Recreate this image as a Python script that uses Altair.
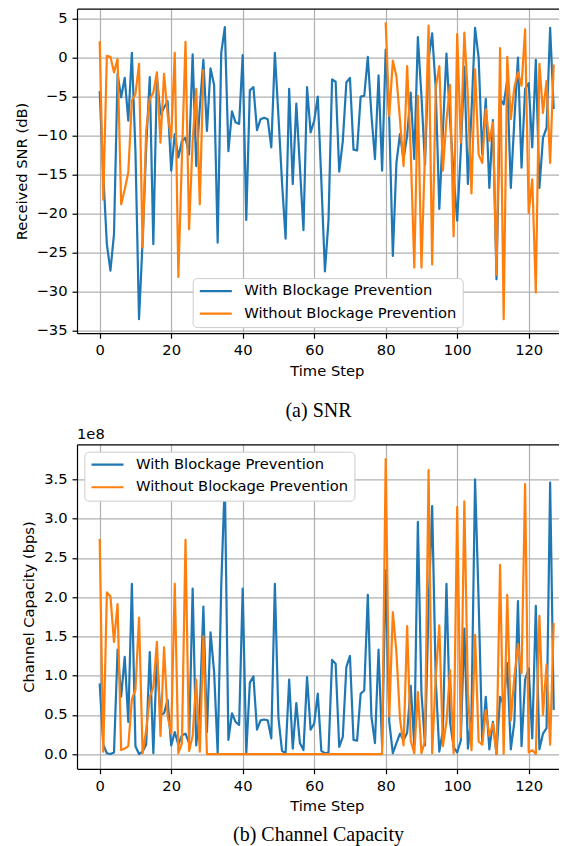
import altair as alt
import pandas as pd

# ---------------- data ----------------
steps = list(range(128))
WITH = "With Blockage Prevention"
WITHOUT = "Without Blockage Prevention"

# Received SNR (dB), with blockage prevention
snr_with = [
    -4.3, -15.0, -23.9, -27.3, -22.6, -2.1, -5.1, -2.6, -8.1, 0.6,
    -12.0, -33.5, -23.5, -11.5, -2.5, -23.9, -2.5, -7.3, -6.4, -5.6,
    -14.5, -9.8, -12.8, -10.7, -10.3, -12.4, 0.4, -13.9, -6.4, -0.3,
    -9.4, -1.4, -3.5, -23.7, 0.6, 3.9, -12.0, -6.9, -8.3, -8.5,
    0.3, -20.8, -4.2, -3.8, -9.3, -7.9, -7.7, -7.9, -11.5, 0.6,
    -7.5, -16.0, -23.2, -4.0, -16.2, -5.9, -14.0, -22.1, -3.8, -9.6,
    -8.1, -5.0, -15.8, -27.4, -20.9, -2.8, -3.1, -14.6, -10.7, -3.2,
    -2.6, -11.8, -11.9, -5.0, -4.9, 0.1, -7.3, -13.0, -2.3, -14.5,
    1.0, -8.0, -25.4, -13.5, -9.8, -13.0, -10.0, -4.5, -13.0, 2.6,
    -4.9, -13.7, -0.2, 3.1, -4.0, -19.4, -9.4, 0.5, -8.0, -15.0,
    -20.9, -12.0, -1.2, -16.2, -7.0, 3.8, 0.0, -12.4, -5.3, -16.7,
    -8.0, -28.4, -5.3, -6.0, -2.9, -16.7, -8.0, 0.0, -14.1, -4.0,
    -3.3, -11.5, -0.3, -16.7, -10.3, -9.0, 3.8, -6.6,
]

# Received SNR (dB), without blockage prevention (no finite value for steps 30-79)
snr_without = [
    2.1, -18.2, 0.2, 0.1, -1.9, -0.2, -18.8, -16.9, -14.7, -5.5,
    -4.7, -0.8, -24.3, -9.4, -5.3, -4.5, -1.9, -10.9, -2.1, -7.3,
    -10.3, 0.6, -28.1, -12.8, 2.0, -22.0, -10.7, -4.0, -18.8, -1.5,
    None, None, None, None, None, None, None, None, None, None,
    None, None, None, None, None, None, None, None, None, None,
    None, None, None, None, None, None, None, None, None, None,
    None, None, None, None, None, None, None, None, None, None,
    None, None, None, None, None, None, None, None, None, None,
    4.5, -7.5, -0.4, -2.4, -8.0, -13.9, -1.1, -12.0, -26.9, -4.9,
    -26.9, -12.0, 4.1, -26.5, -3.8, -1.1, -14.5, -8.0, -3.5, -22.9,
    3.0, -10.9, 3.2, -5.0, -17.4, -1.5, -12.4, -13.5, -6.6, -10.7,
    -8.3, -27.8, 1.2, -33.5, 0.1, -7.9, -3.8, -1.9, -3.6, 3.6,
    -19.9, -15.6, -30.1, -0.8, -7.1, -3.0, -13.5, -0.9,
]

# Channel capacity (units of 1e8 bps), with blockage prevention
cap_with = [
    0.90, 0.12, 0.01, 0.00, 0.02, 1.33, 0.73, 1.24, 0.41, 2.17,
    0.10, 0.00, 0.03, 0.12, 1.30, 0.01, 1.25, 0.50, 0.52, 0.69,
    0.11, 0.28, 0.12, 0.24, 0.26, 0.14, 2.11, 0.11, 0.58, 1.88,
    0.28, 1.55, 1.05, 0.01, 2.15, 3.49, 0.18, 0.52, 0.41, 0.37,
    2.11, 0.01, 0.91, 0.99, 0.31, 0.43, 0.44, 0.43, 0.20, 2.17,
    0.46, 0.04, 0.01, 0.95, 0.07, 0.65, 0.14, 0.05, 0.98, 0.31,
    0.39, 0.77, 0.04, 0.01, 0.02, 1.20, 1.15, 0.09, 0.22, 1.11,
    1.25, 0.18, 0.17, 0.77, 0.81, 2.03, 0.48, 0.14, 1.33, 0.10,
    2.34, 0.41, 0.01, 0.14, 0.26, 0.18, 0.27, 0.87, 0.11, 2.96,
    0.79, 0.11, 1.89, 3.16, 0.95, 0.03, 0.30, 2.17, 0.41, 0.09,
    0.02, 0.17, 1.60, 0.07, 0.50, 3.50, 1.95, 0.16, 0.73, 0.06,
    0.41, 0.00, 0.73, 0.63, 1.16, 0.06, 0.41, 1.95, 0.10, 0.95,
    1.09, 0.20, 1.89, 0.06, 0.26, 0.33, 3.46, 0.56,
]

# Channel capacity (units of 1e8 bps), without blockage prevention
cap_without = [
    2.74, 0.03, 2.06, 2.01, 1.43, 1.91, 0.05, 0.07, 0.10, 0.70,
    0.82, 1.74, 0.01, 0.30, 0.73, 0.85, 1.43, 0.23, 1.36, 0.48,
    0.26, 2.17, 0.01, 0.14, 2.73, 0.04, 0.23, 0.95, 0.03, 1.50,
    0.00, 0.00, 0.00, 0.00, 0.00, 0.00, 0.00, 0.00, 0.00, 0.00,
    0.00, 0.00, 0.00, 0.00, 0.00, 0.00, 0.00, 0.00, 0.00, 0.00,
    0.00, 0.00, 0.00, 0.00, 0.00, 0.00, 0.00, 0.00, 0.00, 0.00,
    0.00, 0.00, 0.00, 0.00, 0.00, 0.00, 0.00, 0.00, 0.00, 0.00,
    0.00, 0.00, 0.00, 0.00, 0.00, 0.00, 0.00, 0.00, 0.00, 0.00,
    3.76, 0.48, 1.81, 1.30, 0.45, 0.11, 1.63, 0.17, 0.01, 0.79,
    0.01, 0.17, 3.62, 0.01, 0.98, 1.64, 0.10, 0.41, 1.07, 0.01,
    3.15, 0.22, 3.22, 0.77, 0.05, 1.52, 0.16, 0.12, 0.56, 0.23,
    0.39, 0.00, 2.41, 0.00, 2.03, 0.43, 0.98, 1.40, 1.03, 3.44,
    0.02, 0.05, 0.00, 1.76, 0.50, 1.14, 0.12, 1.67,
]

x_ticks = [0, 20, 40, 60, 80, 100, 120]
snr_ticks = [5, 0, -5, -10, -15, -20, -25, -30, -35]
cap_ticks = [0.0, 0.5, 1.0, 1.5, 2.0, 2.5, 3.0, 3.5]
series_names = [WITH, WITHOUT]
series_colors = ["#1f77b4", "#ff7f0e"]

df = pd.DataFrame({
    "step": steps + steps,
    "series": [WITH] * len(steps) + [WITHOUT] * len(steps),
    "snr": snr_with + snr_without,
    "cap": cap_with + cap_without,
})

# ---------------- styling ----------------
FONT = "DejaVu Sans"
FS = 14.7
W = 482
H = 324.5
X_DOMAIN = [-6.35, 128.48]   # the reference figure is cropped at the right edge
FULL_CENTER = 249.8          # centre of the uncropped axes, from the plot's left edge

x_scale = alt.Scale(domain=X_DOMAIN, nice=False, zero=False)


def caption_title(text, offset):
    return alt.TitleParams(
        text, orient="bottom", anchor="middle", frame="group",
        font="Liberation Serif", fontSize=20, fontWeight="normal", color="black",
        offset=offset, dx=FULL_CENTER - 8.3 - W / 2,
    )


def panel(field, ydom, yvals, yfmt, ytitle, ytitle_x, leg_x, leg_y, caption, cap_offset,
          offset_label=None):
    color = alt.Color(
        "series:N",
        scale=alt.Scale(domain=series_names, range=series_colors),
        legend=alt.Legend(
            orient="none", legendX=leg_x, legendY=leg_y, title=None,
            symbolType="stroke", symbolSize=1024, symbolStrokeWidth=2.2,
            clipHeight=14.7,
            labelFont=FONT, labelFontSize=FS, labelColor="black", labelLimit=400,
            labelOffset=11, rowPadding=6.6, padding=5.6,
            fillColor="white", strokeColor="#cccccc", cornerRadius=4,
        ),
    )
    y_scale = alt.Scale(domain=ydom, nice=False, zero=False)
    lines = alt.Chart(df).mark_line(strokeWidth=2.2, strokeJoin="round", clip=True).encode(
        x=alt.X(
            "step:Q", scale=x_scale,
            axis=alt.Axis(
                values=x_ticks, format="d", title="Time Step",
                titleX=FULL_CENTER, titleY=38.0, titleBaseline="middle",
                labelBaseline="middle", labelPadding=12.8,
            ),
        ),
        y=alt.Y(
            f"{field}:Q", scale=y_scale,
            axis=alt.Axis(
                values=yvals, format=yfmt, title=ytitle,
                titleX=ytitle_x, titleY=H / 2, titleAngle=270, titleBaseline="middle",
                labelPadding=5,
            ),
        ),
        color=color,
        detail="series:N",
    )
    # invisible layer that only carries the top spine (an axis line without ticks/labels)
    top_spine = alt.Chart(df).mark_rule(opacity=0).encode(
        x=alt.X(
            "step:Q", scale=x_scale,
            axis=alt.Axis(orient="top", labels=False, ticks=False, grid=False, title=None),
        ),
    )
    layers = [lines, top_spine]
    if offset_label is not None:
        lbl = alt.Chart(pd.DataFrame({"t": [offset_label]})).mark_text(
            align="left", baseline="alphabetic", font=FONT, fontSize=FS, color="black"
        ).encode(text="t:N", x=alt.value(0), y=alt.value(-5))
        layers.append(lbl)
    return alt.layer(*layers).resolve_axis(x="independent").properties(
        width=W, height=H, title=caption_title(caption, cap_offset),
    )


top = panel("snr", [-35.3, 6.25], snr_ticks, "d", "Received SNR (dB)", -54.3,
            115.7, 269.4, "(a) SNR", 23.5)
bottom = panel("cap", [-0.188, 3.948], cap_ticks, ".1f", "Channel Capacity (bps)", -47.7,
               7.4, 7.4, "(b) Channel Capacity", 11.8, offset_label="1e8")

chart = alt.vconcat(top, bottom, spacing=110.6, bounds="flush").resolve_legend(
    color="independent"
).properties(
    padding={"left": 6, "top": 0.7, "right": 0, "bottom": 0}
).configure_view(
    stroke=None
).configure_axis(
    labelFont=FONT, labelFontSize=FS, labelColor="black",
    titleFont=FONT, titleFontSize=FS, titleFontWeight="normal", titleColor="black",
    domainColor="black", domainWidth=1.2,
    tickColor="black", tickWidth=1.2, tickSize=5,
    gridColor="#b0b0b0", gridWidth=1.2,
)

chart.save("out.html", embed_options={"renderer": "svg", "actions": False})
